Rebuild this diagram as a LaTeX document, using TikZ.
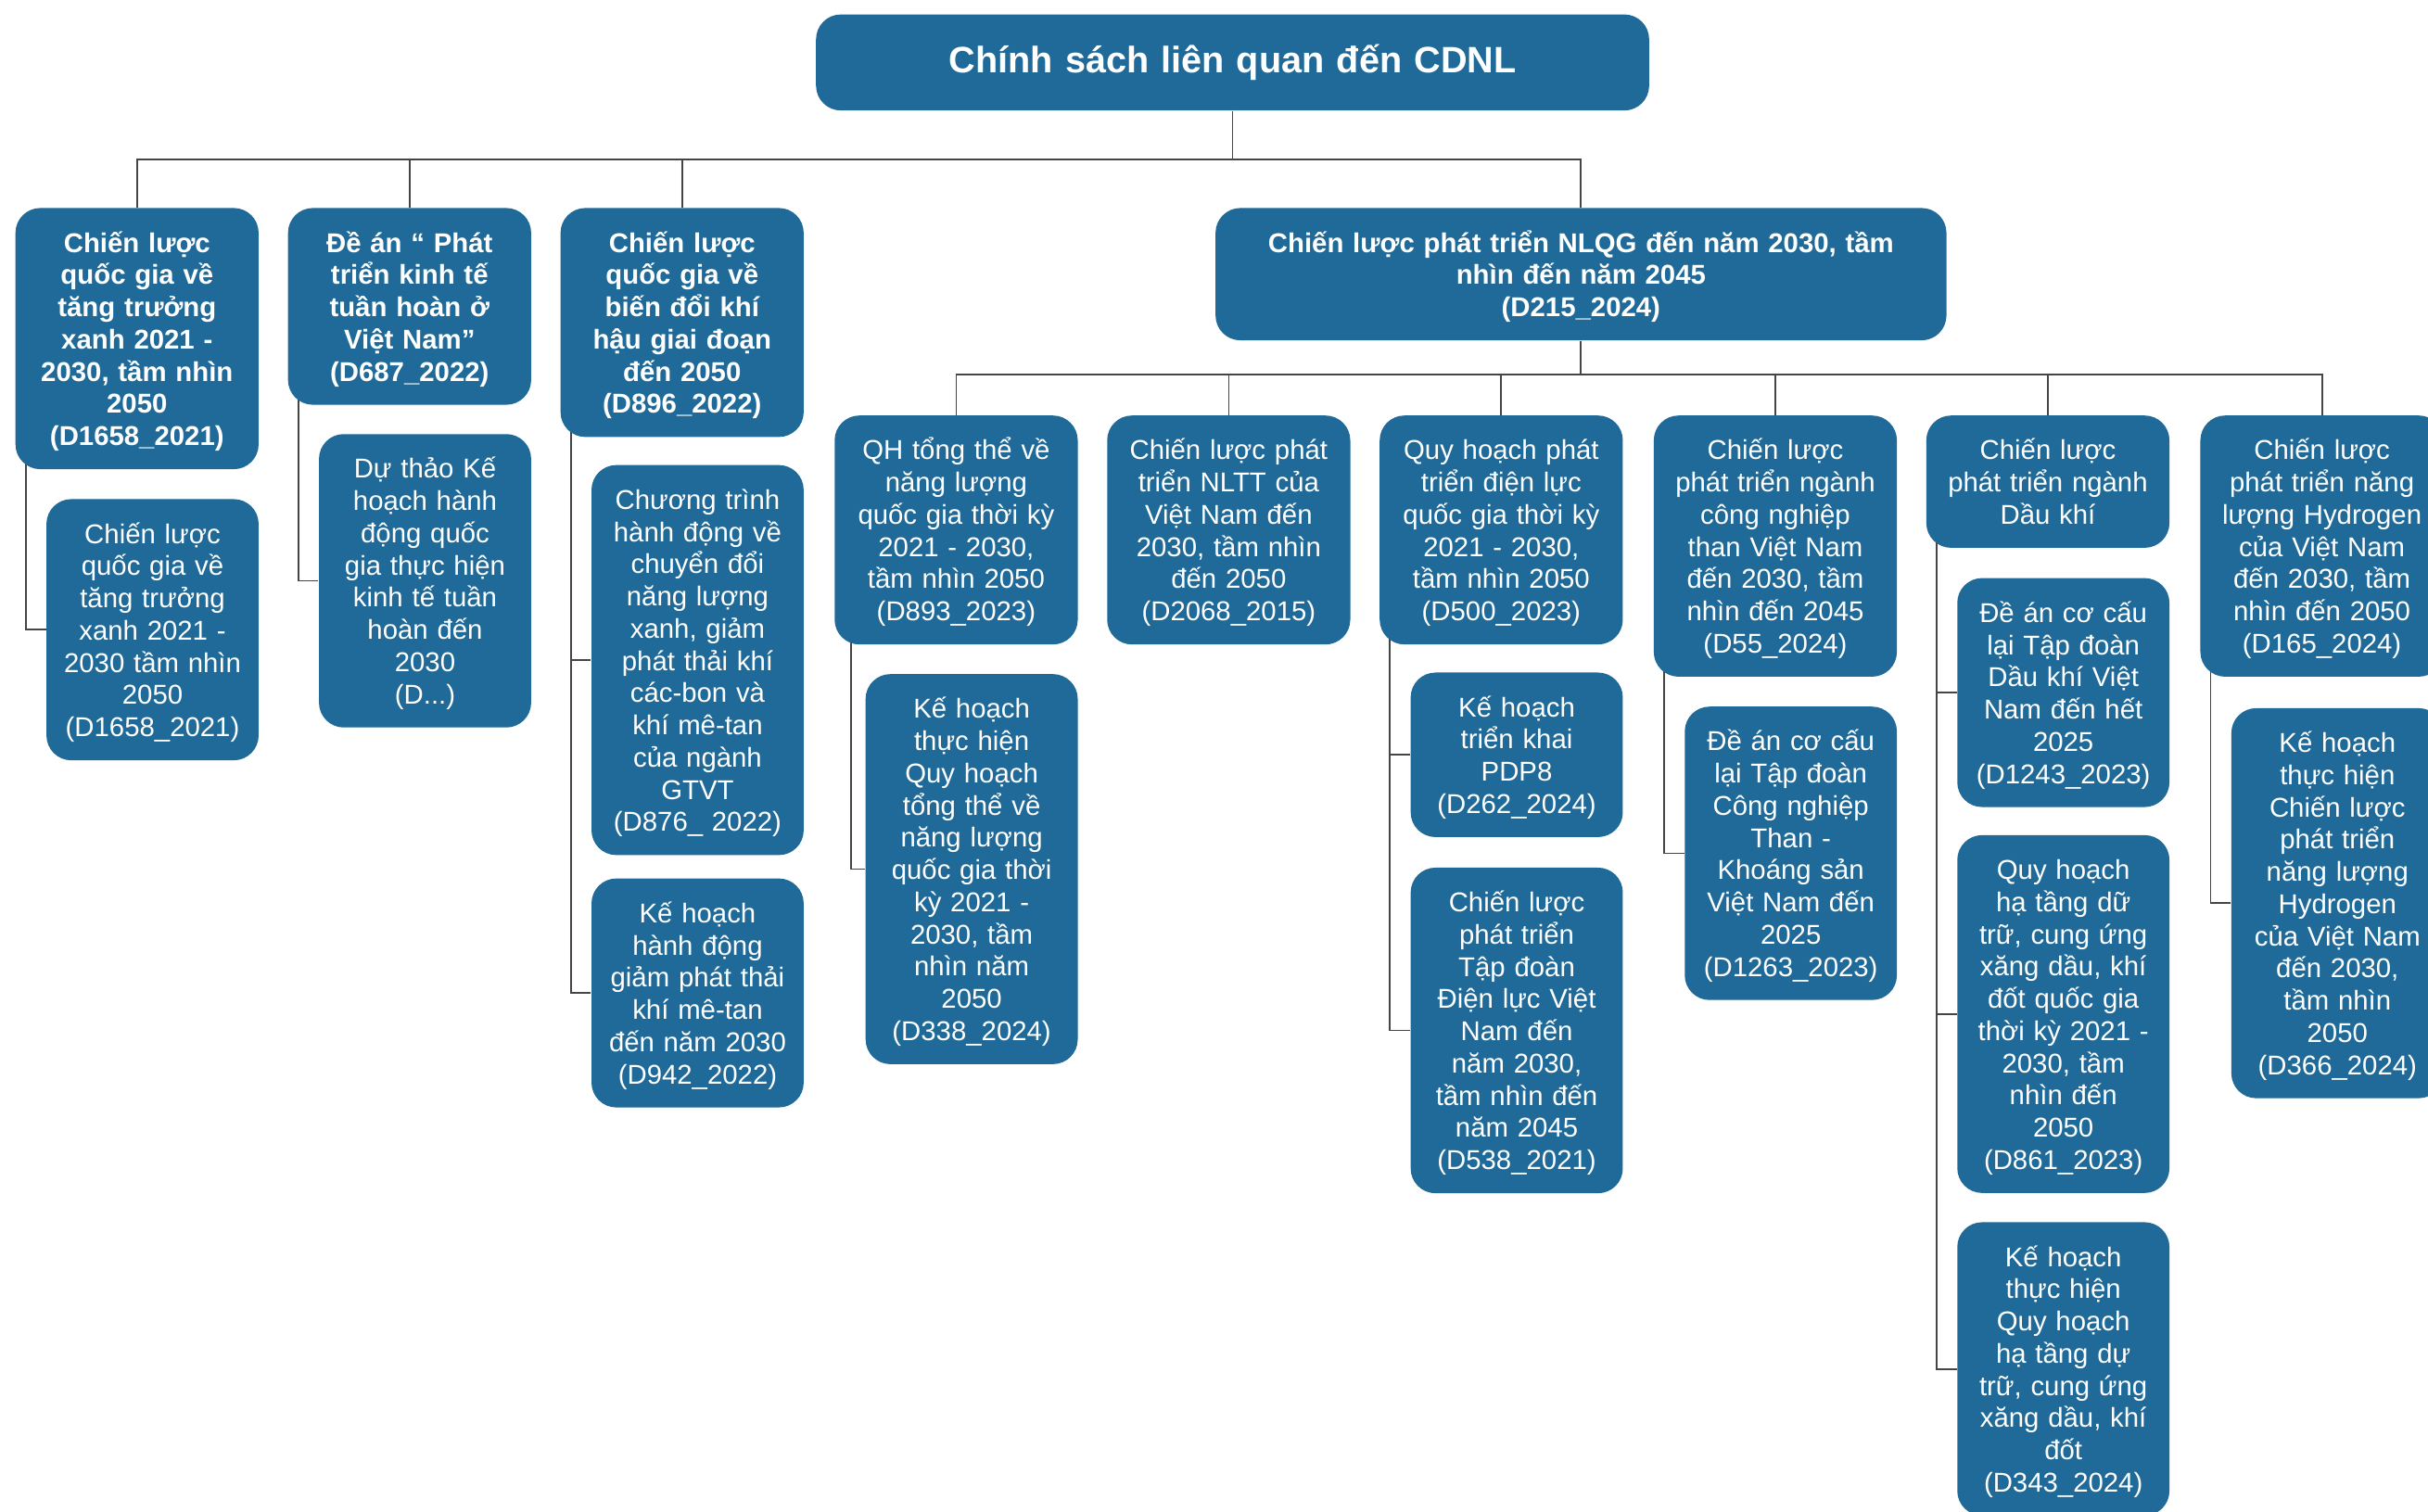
\documentclass[tikz,border=0pt]{standalone}
\usepackage{fontspec}
\setmainfont{Liberation Sans}
\usetikzlibrary{calc,backgrounds}
\definecolor{boxblue}{HTML}{1F6A98}
\definecolor{linegray}{HTML}{454545}
\tikzset{
  doc/.style={fill=boxblue, text=white, rounded corners=3.2mm, anchor=north, align=center,
    font=\fontsize{10}{11.84}\selectfont, inner xsep=1mm, inner ysep=2.3mm,
    execute at begin node=\rule{0pt}{9.7pt}, execute at end node=\rule[-2.15pt]{0pt}{0pt}},
  subdoc/.style={doc, text width=25.4mm},
  maindoc/.style={doc, text width=29.4mm, font=\bfseries\fontsize{10}{11.84}\selectfont},
  link/.style={draw=linegray, line width=0.6pt},
}
\begin{document}
\begin{tikzpicture}[x=0.2mm, y=-0.2mm]
\useasboundingbox (0,0) rectangle (1568,976);
% title
\node[doc, text width=105.6mm, minimum height=12.4mm, font=\bfseries\fontsize{13.5}{16}\selectfont] (root) at (796,9) {Chính sách liên quan đến CDNL};
% first level
\node[maindoc] (tttx) at (88.5,134) {Chiến lược\\quốc gia về\\tăng trưởng\\xanh 2021 -\\2030, tầm nhìn\\2050\\(D1658\_2021)};
\node[maindoc] (ktth) at (264.5,134) {Đề án “ Phát\\triển kinh tế\\tuần hoàn ở\\Việt Nam”\\(D687\_2022)};
\node[maindoc] (bdkh) at (440.5,134) {Chiến lược\\quốc gia về\\biến đổi khí\\hậu giai đoạn\\đến 2050\\(D896\_2022)};
\node[maindoc, text width=92.4mm] (nlqg) at (1021,134) {Chiến lược phát triển NLQG đến năm 2030, tầm\\nhìn đến năm 2045\\(D215\_2024)};
% under first level
\node[subdoc] (tttxkh) at (98.5,322) {Chiến lược\\quốc gia về\\tăng trưởng\\xanh 2021 -\\2030 tầm nhìn\\2050\\(D1658\_2021)};
\node[subdoc] (ktthkh) at (274.5,280) {Dự thảo Kế\\hoạch hành\\động quốc\\gia thực hiện\\kinh tế tuần\\hoàn đến\\2030\\(D...)};
\node[subdoc] (gtvt) at (450.5,300) {Chương trình\\hành động về\\chuyển đổi\\năng lượng\\xanh, giảm\\phát thải khí\\các-bon và\\khí mê-tan\\của ngành\\GTVT\\(D876\_ 2022)};
\node[subdoc] (metan) at (450.5,567) {Kế hoạch\\hành động\\giảm phát thải\\khí mê-tan\\đến năm 2030\\(D942\_2022)};
% second level
\node[doc, text width=29.4mm] (qhnl) at (617.5,268) {QH tổng thể về\\năng lượng\\quốc gia thời kỳ\\2021 - 2030,\\tầm nhìn 2050\\(D893\_2023)};
\node[doc, text width=29.4mm] (nltt) at (793.5,268) {Chiến lược phát\\triển NLTT của\\Việt Nam đến\\2030, tầm nhìn\\đến 2050\\(D2068\_2015)};
\node[doc, text width=29.4mm] (qhdl) at (969.5,268) {Quy hoạch phát\\triển điện lực\\quốc gia thời kỳ\\2021 - 2030,\\tầm nhìn 2050\\(D500\_2023)};
\node[doc, text width=29.4mm] (than) at (1146.5,268) {Chiến lược\\phát triển ngành\\công nghiệp\\than Việt Nam\\đến 2030, tầm\\nhìn đến 2045\\(D55\_2024)};
\node[doc, text width=29.4mm] (dk) at (1322.5,268) {Chiến lược\\phát triển ngành\\Dầu khí};
\node[doc, text width=29.4mm] (hydro) at (1499.5,268) {Chiến lược\\phát triển năng\\lượng Hydrogen\\của Việt Nam\\đến 2030, tầm\\nhìn đến 2050\\(D165\_2024)};
% under second level
\node[subdoc] (qhnlkh) at (627.5,435) {Kế hoạch\\thực hiện\\Quy hoạch\\tổng thể về\\năng lượng\\quốc gia thời\\kỳ 2021 -\\2030, tầm\\nhìn năm\\2050\\(D338\_2024)};
\node[subdoc] (pdp) at (979.5,434) {Kế hoạch\\triển khai\\PDP8\\(D262\_2024)};
\node[subdoc] (evn) at (979.5,560) {Chiến lược\\phát triển\\Tập đoàn\\Điện lực Việt\\Nam đến\\năm 2030,\\tầm nhìn đến\\năm 2045\\(D538\_2021)};
\node[subdoc] (tkv) at (1156.5,456) {Đề án cơ cấu\\lại Tập đoàn\\Công nghiệp\\Than -\\Khoáng sản\\Việt Nam đến\\2025\\(D1263\_2023)};
\node[subdoc] (pvn) at (1332.5,373) {Đề án cơ cấu\\lại Tập đoàn\\Dầu khí Việt\\Nam đến hết\\2025\\(D1243\_2023)};
\node[subdoc] (qhxd) at (1332.5,539) {Quy hoạch\\hạ tầng dữ\\trữ, cung ứng\\xăng dầu, khí\\đốt quốc gia\\thời kỳ 2021 -\\2030, tầm\\nhìn đến\\2050\\(D861\_2023)};
\node[subdoc] (qhxdkh) at (1332.5,789) {Kế hoạch\\thực hiện\\Quy hoạch\\hạ tầng dự\\trữ, cung ứng\\xăng dầu, khí\\đốt\\(D343\_2024)};
\node[subdoc] (hydrokh) at (1509.5,457) {Kế hoạch\\thực hiện\\Chiến lược\\phát triển\\năng lượng\\Hydrogen\\của Việt Nam\\đến 2030,\\tầm nhìn\\2050\\(D366\_2024)};
% connectors
\begin{scope}[on background layer]
\coordinate (bus1) at (796,103);
\foreach \n in {tttx,ktth,bdkh,nlqg}
  \path[link] (root.south) -- (bus1) -| (\n.north);
\coordinate (bus2) at (1021,242);
\foreach \n in {qhnl,nltt,qhdl,than,dk,hydro}
  \path[link] (nlqg.south) -- (bus2) -| (\n.north);
\foreach \p/\c in {tttx/tttxkh,ktth/ktthkh,bdkh/gtvt,bdkh/metan,qhdl/pdp,qhdl/evn,than/tkv,dk/pvn,dk/qhxd,dk/qhxdkh,hydro/hydrokh}
  \path[link] ([xshift=1.4mm,yshift=4mm]\p.south west) |- (\c.west);
\path[link] ([xshift=2.2mm,yshift=4mm]qhnl.south west) |- (qhnlkh.west);
\end{scope}
\end{tikzpicture}
\end{document}
